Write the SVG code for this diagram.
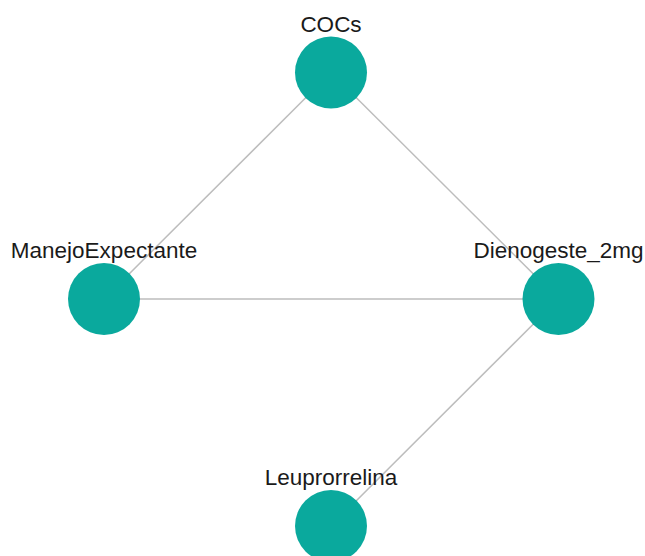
<svg xmlns="http://www.w3.org/2000/svg" width="645" height="556" viewBox="0 0 645 556">
<style>
.edge{stroke:#bdbdbd;stroke-width:1.5;fill:none}
.node circle{fill:#0aa99d}
.node text{font-family:"Liberation Sans",Arial,sans-serif;font-size:22.5px;fill:#1a1a1a;text-anchor:middle}
</style>
<rect width="645" height="556" fill="#ffffff"/>
<g id="edges">
<line class="edge" x1="331" y1="72.5" x2="104" y2="299"/>
<line class="edge" x1="331" y1="72.5" x2="558.5" y2="299"/>
<line class="edge" x1="104" y1="299" x2="558.5" y2="299"/>
<line class="edge" x1="558.5" y1="299" x2="331" y2="526"/>
</g>
<g id="node-COCs" class="node"><circle cx="331" cy="72.5" r="36"/><text x="331" y="32">COCs</text></g>
<g id="node-ManejoExpectante" class="node"><circle cx="104" cy="299" r="36"/><text x="104" y="258">ManejoExpectante</text></g>
<g id="node-Dienogeste_2mg" class="node"><circle cx="558.5" cy="299" r="36"/><text x="558.5" y="258">Dienogeste_2mg</text></g>
<g id="node-Leuprorrelina" class="node"><circle cx="331" cy="526" r="36"/><text x="331" y="485">Leuprorrelina</text></g>
</svg>
